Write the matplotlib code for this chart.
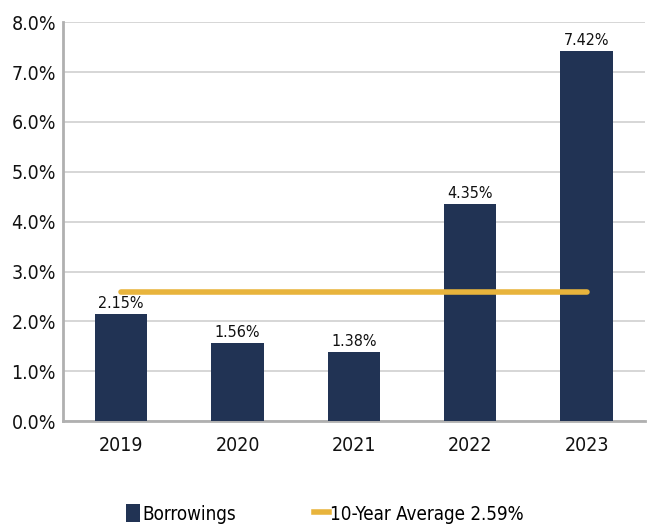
import matplotlib.pyplot as plt
from matplotlib.ticker import FuncFormatter
from matplotlib.lines import Line2D
from matplotlib.patches import Patch

years = ["2019", "2020", "2021", "2022", "2023"]
borrowings = [2.15, 1.56, 1.38, 4.35, 7.42]
avg_10yr = 2.59

navy = "#213354"
gold = "#e8b43c"

plt.rcParams["font.family"] = ["DejaVu Sans"]
plt.rcParams["font.stretch"] = "condensed"

fig = plt.figure(figsize=(6.5, 5.29), dpi=100)
ax = fig.add_axes([0.097, 0.204, 0.895, 0.754])

x = range(len(years))
bars = ax.bar(x, borrowings, width=0.45, color=navy, zorder=3)
for xi, v in zip(x, borrowings):
    ax.text(xi, v + 0.06, f"{v:.2f}%", ha="center", va="bottom", fontsize=11.5, color="#111111", zorder=4)

ax.plot([0, len(years) - 1], [avg_10yr, avg_10yr], color=gold, lw=4, solid_capstyle="round", zorder=4)

ax.set_xlim(-0.5, len(years) - 0.5)
ax.set_ylim(0, 8)
ax.set_yticks(range(0, 9))
ax.yaxis.set_major_formatter(FuncFormatter(lambda v, p: f"{v:.1f}%"))
ax.set_xticks(list(x))
ax.set_xticklabels(years)
ax.tick_params(axis="both", length=0, labelsize=14, colors="#111111")
ax.tick_params(axis="x", pad=11)
ax.tick_params(axis="y", pad=5)
ax.grid(axis="y", color="#d0d0d0", lw=1.2, zorder=0)

for s in ["top", "right"]:
    ax.spines[s].set_visible(False)
ax.spines["left"].set_color("#b0b0b0")
ax.spines["left"].set_linewidth(2)
ax.spines["bottom"].set_color("#b0b0b0")
ax.spines["bottom"].set_linewidth(2)

handles = [Patch(facecolor=navy, label="Borrowings"),
           Line2D([0], [0], color=gold, lw=4, label="10-Year Average 2.59%")]
fig.legend(handles=handles, loc="lower center", bbox_to_anchor=(0.5, -0.022), ncol=2,
           frameon=False, fontsize=13.5, handlelength=0.75, handleheight=1.1,
           handletextpad=0.1, columnspacing=4.2)

fig.savefig("out.png", dpi=100)
